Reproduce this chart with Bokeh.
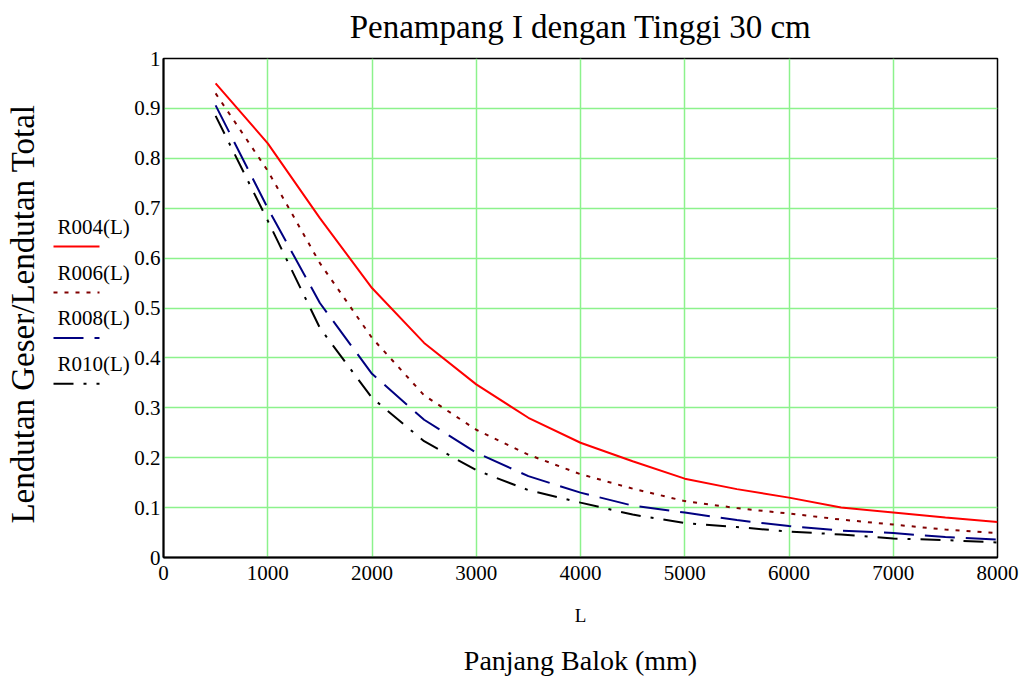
import math
from bokeh.plotting import figure
from bokeh.layouts import row
from bokeh.models import Range1d, FixedTicker, CustomJSTickFormatter, LinearAxis
from bokeh.core.properties import value
from bokeh.embed import file_html
from bokeh.resources import INLINE

# ---- data ----
L = [500, 1000, 1500, 2000, 2500, 3000, 3500, 4000, 4500, 5000, 5500, 6000, 6500, 7000, 7500, 8000]
R004 = [0.95, 0.83, 0.68, 0.54, 0.43, 0.347, 0.28, 0.23, 0.193, 0.158, 0.137, 0.12, 0.10, 0.09, 0.08, 0.071]
R006 = [0.93, 0.775, 0.59, 0.44, 0.325, 0.256, 0.206, 0.167, 0.138, 0.113, 0.099, 0.088, 0.076, 0.066, 0.056, 0.049]
R008 = [0.906, 0.70, 0.51, 0.368, 0.276, 0.21, 0.163, 0.13, 0.104, 0.09, 0.075, 0.063, 0.054, 0.049, 0.041, 0.036]
R010 = [0.885, 0.675, 0.46, 0.32, 0.233, 0.175, 0.135, 0.11, 0.086, 0.069, 0.061, 0.052, 0.046, 0.038, 0.035, 0.03]
series_names = ["R004(L)", "R006(L)", "R008(L)", "R010(L)"]
x_ticks = [0, 1000, 2000, 3000, 4000, 5000, 6000, 7000, 8000]
y_ticks = [0, 0.1, 0.2, 0.3, 0.4, 0.5, 0.6, 0.7, 0.8, 0.9, 1.0]
title_text = "Penampang I dengan Tinggi 30 cm"
ytitle_text = "Lendutan Geser/Lendutan Total"
xvar_text = "L"
xtitle_text = "Panjang Balok (mm)"

FONT = "Liberation Serif"
H = 678
LEFT_W = 130
FRAME_LEFT = 163
FRAME_TOP, FRAME_BOTTOM = 58, 558

styles = [("#ff0000", None), ("#800000", "4 7"), ("#000080", "30 11"), ("#000000", "20 10 3 10")]

# ---- left panel: y title + legend (pixel space, frame aligned with main plot frame) ----
lf = figure(width=LEFT_W, height=H, output_backend="svg", toolbar_location=None,
            x_range=Range1d(0, LEFT_W), y_range=Range1d(FRAME_BOTTOM, FRAME_TOP),
            x_axis_type=None, y_axis_type=None,
            min_border=0, min_border_left=0, min_border_right=0,
            min_border_top=FRAME_TOP, min_border_bottom=H - FRAME_BOTTOM)
lf.outline_line_color = None
lf.grid.visible = False
lf.text(x=[22], y=[314], text=[ytitle_text], angle=math.pi / 2, text_font=value(FONT),
        text_font_size="33px", text_align="center", text_baseline="middle", text_color="black")
text_y = [227, 273, 318, 364]
line_y = [246.5, 292.5, 338, 384]
lf.text(x=[57] * 4, y=text_y, text=series_names, text_font=value(FONT), text_font_size="21px",
        text_align="left", text_baseline="middle", text_color="black")
for ly, (c, d) in zip(line_y, styles):
    kw = dict(line_color=c, line_width=2)
    if d:
        kw["line_dash"] = d
    lf.line([53, 99], [ly, ly], **kw)

# ---- main plot ----
p = figure(width=1023 - LEFT_W, height=H, output_backend="svg", toolbar_location=None,
           x_range=Range1d(0, 8000), y_range=Range1d(0, 1),
           min_border_left=FRAME_LEFT - LEFT_W, min_border_right=26,
           min_border_top=FRAME_TOP, min_border_bottom=H - FRAME_BOTTOM)
p.background_fill_color = "white"
p.border_fill_color = "white"
p.outline_line_color = "black"
p.outline_line_width = 1.5

def no_ticks(ax):
    ax.major_tick_line_color = None
    ax.minor_tick_line_color = None
    ax.major_tick_out = 0
    ax.major_tick_in = 0
    ax.minor_tick_out = 0
    ax.minor_tick_in = 0

p.xaxis.ticker = FixedTicker(ticks=x_ticks)
p.yaxis.ticker = FixedTicker(ticks=y_ticks)
p.yaxis.formatter = CustomJSTickFormatter(code="return (Math.round(tick*10)/10).toString();")
for ax in (p.xaxis, p.yaxis):
    ax.axis_line_width = 2
    ax.axis_line_color = "black"
    no_ticks(ax)
    ax.major_label_text_font = FONT
    ax.major_label_text_font_size = "21px"
    ax.major_label_text_color = "black"
p.xaxis.major_label_standoff = 8
p.yaxis.major_label_standoff = 3
p.xaxis.axis_label = xvar_text
p.xaxis.axis_label_text_font = FONT
p.xaxis.axis_label_text_font_size = "19px"
p.xaxis.axis_label_text_font_style = "normal"
p.xaxis.axis_label_text_color = "black"
p.xaxis.axis_label_standoff = 22

def label_axis(text, size, standoff):
    ax = LinearAxis(ticker=FixedTicker(ticks=[]), axis_line_color=None, axis_label=text,
                    axis_label_text_font=FONT, axis_label_text_font_size=size,
                    axis_label_text_font_style="normal", axis_label_text_color="black",
                    axis_label_standoff=standoff, major_label_text_font_size="0px",
                    major_label_standoff=0)
    no_ticks(ax)
    return ax

p.add_layout(label_axis(title_text, "33px", 14), "above")
p.add_layout(label_axis(xtitle_text, "28px", 16), "below")

for g in (p.xgrid, p.ygrid):
    g.grid_line_color = "#8cf28c"
    g.grid_line_width = 1.5
p.xgrid.ticker = FixedTicker(ticks=x_ticks)
p.ygrid.ticker = FixedTicker(ticks=y_ticks)

for ys, (c, d) in zip([R004, R006, R008, R010], styles):
    kw = dict(line_color=c, line_width=2)
    if d:
        kw["line_dash"] = d
    p.line(L, ys, **kw)

layout = row(lf, p)
open("out.html", "w").write(file_html(layout, INLINE))
